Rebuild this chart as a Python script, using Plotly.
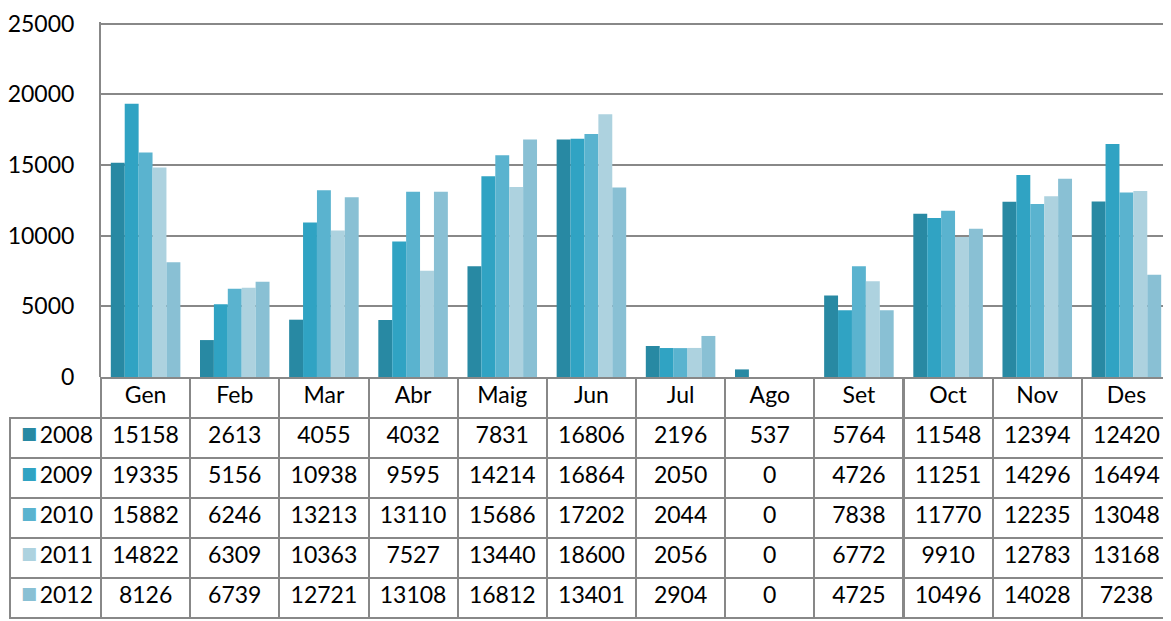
import plotly.graph_objects as go

months = ['Gen', 'Feb', 'Mar', 'Abr', 'Maig', 'Jun', 'Jul', 'Ago', 'Set', 'Oct', 'Nov', 'Des']
years = ['2008', '2009', '2010', '2011', '2012']

v2008 = [15158, 2613, 4055, 4032, 7831, 16806, 2196, 537, 5764, 11548, 12394, 12420]
v2009 = [19335, 5156, 10938, 9595, 14214, 16864, 2050, 0, 4726, 11251, 14296, 16494]
v2010 = [15882, 6246, 13213, 13110, 15686, 17202, 2044, 0, 7838, 11770, 12235, 13048]
v2011 = [14822, 6309, 10363, 7527, 13440, 18600, 2056, 0, 6772, 9910, 12783, 13168]
v2012 = [8126, 6739, 12721, 13108, 16812, 13401, 2904, 0, 4725, 10496, 14028, 7238]
series = [v2008, v2009, v2010, v2011, v2012]

colors = ['#2889A3', '#30A3C3', '#5AB3CF', '#ADD2DF', '#89C0D4']
grid = '#888888'
font = 'Lato, Calibri, sans-serif'

# page body has an 8px margin, so the figure is 8px smaller than the window
W, H = 1163, 613
top = 14
axis_x = 93
plot_bottom = 369
table_left = 2

fig = go.Figure()

# bars
for year, vals, col in zip(years, series, colors):
    fig.add_trace(go.Bar(x=months, y=vals, name=year,
                         marker=dict(color=col, line_width=0),
                         showlegend=False))

# data table under the bars (works as legend too)
cols = [years] + [[s[i] for s in series] for i in range(len(months))]
col_w = (W - axis_x) / 12.0
table_y = [0, (H - plot_bottom - 1) / (H - top)]

fig.add_trace(go.Table(
    domain=dict(x=[table_left / W, 1], y=table_y),
    columnwidth=[axis_x - table_left] + [col_w] * 12,
    header=dict(values=[''] + months,
                height=40,
                align='center',
                fill=dict(color=['rgba(0,0,0,0)'] + ['white'] * 12),
                line=dict(color=['rgba(0,0,0,0)'] + [grid] * 12, width=2),
                font=dict(family=font, size=23, color='black')),
    cells=dict(values=cols,
               height=40,
               align=['right'] + ['center'] * 12,
               fill=dict(color='white'),
               line=dict(color=grid, width=2),
               font=dict(family=font, size=23, color='black'))
))

# coloured legend keys in front of the years
fig.add_trace(go.Table(
    domain=dict(x=[(table_left + 3) / W, (table_left + 34) / W], y=table_y),
    columnwidth=[1],
    header=dict(values=[''], height=40,
                fill=dict(color='rgba(0,0,0,0)'),
                line=dict(color='rgba(0,0,0,0)')),
    cells=dict(values=[['■'] * len(years)],
               height=40,
               align='left',
               fill=dict(color='rgba(0,0,0,0)'),
               line=dict(color='rgba(0,0,0,0)'),
               font=dict(family='DejaVu Sans', size=17, color=[colors]))
))

fig.update_layout(
    width=W, height=H,
    margin=dict(l=0, r=0, t=top, b=0),
    paper_bgcolor='white',
    plot_bgcolor='white',
    barmode='group',
    bargap=0.22,
    bargroupgap=0,
    font=dict(family=font, size=23, color='black'),
    xaxis=dict(domain=[axis_x / W, 1], showticklabels=False, showgrid=False,
               zeroline=False, ticks='', automargin=False),
    yaxis=dict(domain=[(H - plot_bottom) / (H - top), 1], range=[0, 25120],
               tickvals=[0, 5000, 10000, 15000, 20000, 25000], tickformat='d',
               showgrid=True, gridcolor=grid, gridwidth=2,
               zeroline=False, showline=True, linecolor=grid, linewidth=2,
               ticks='', ticklabelstandoff=20, automargin=False,
               tickfont=dict(family=font, size=23, color='black')),
)

fig.write_html("out.html")
